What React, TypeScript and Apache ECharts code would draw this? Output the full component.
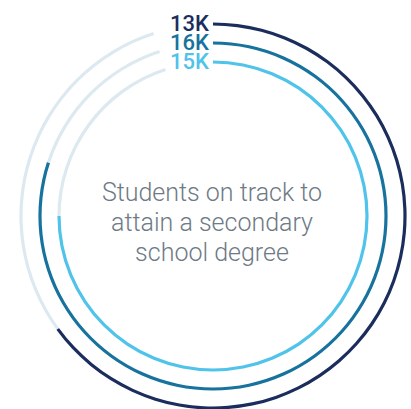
import React, { useEffect, useRef } from "react";
import * as echarts from "echarts";

const ringNames = ["Outer", "Middle", "Inner"];
const ringValues = [13, 16, 15]; // thousands
const ringLabels = ["13K", "16K", "15K"];
const trackEnd = 19; // gray track extends to this value
const scaleTotal = 20; // full circle
const ringColors = ["#1b2d5c", "#17729e", "#4fc3ea"];
const trackColor = "#dde9f0";
const centerLines = ["Students on track to", "attain a secondary", "school degree"];

export default function App() {
  const ref = useRef<HTMLDivElement>(null);
  useEffect(() => {
    document.body.style.margin = "0";
    const chart = echarts.init(ref.current!, null, { renderer: "svg" });
    const cx = 213;
    const cy = 216;
    const radii = [192, 173, 154];
    const half = 1.6;
    const series = ringNames.map((name, i) => ({
      type: "pie",
      name,
      center: [cx, cy],
      radius: [radii[i] - half, radii[i] + half],
      startAngle: 90,
      clockwise: true,
      silent: true,
      avoidLabelOverlap: false,
      label: { show: false },
      labelLine: { show: false },
      emphasis: { disabled: true },
      itemStyle: { borderWidth: 0 },
      data: [
        { value: ringValues[i], name: name + " value", itemStyle: { color: ringColors[i] } },
        { value: trackEnd - ringValues[i], name: name + " track", itemStyle: { color: trackColor } },
        { value: scaleTotal - trackEnd, name: name + " gap", itemStyle: { color: "rgba(0,0,0,0)" } },
      ],
    }));
    const labelTexts = ringLabels.map((t, i) => ({
      type: "text",
      x: 209,
      y: cy - radii[i] - 1,
      style: {
        text: t,
        fill: ringColors[i],
        font: "500 22px Roboto, 'Noto Sans', sans-serif",
        lineHeight: 18,
        align: "right",
        verticalAlign: "middle",
      },
    }));
    chart.setOption({
      animation: false,
      backgroundColor: "#ffffff",
      series,
      graphic: [
        ...labelTexts,
        {
          type: "text",
          x: cx - 1,
          y: 222,
          style: {
            text: centerLines.join("\n"),
            fill: "#6e7a85",
            font: "300 25px Roboto, 'Noto Sans', sans-serif",
            lineHeight: 30,
            align: "center",
            verticalAlign: "middle",
          },
        },
      ],
    });
    return () => chart.dispose();
  }, []);
  return <div ref={ref} style={{ width: 411, height: 409 }} />;
}
